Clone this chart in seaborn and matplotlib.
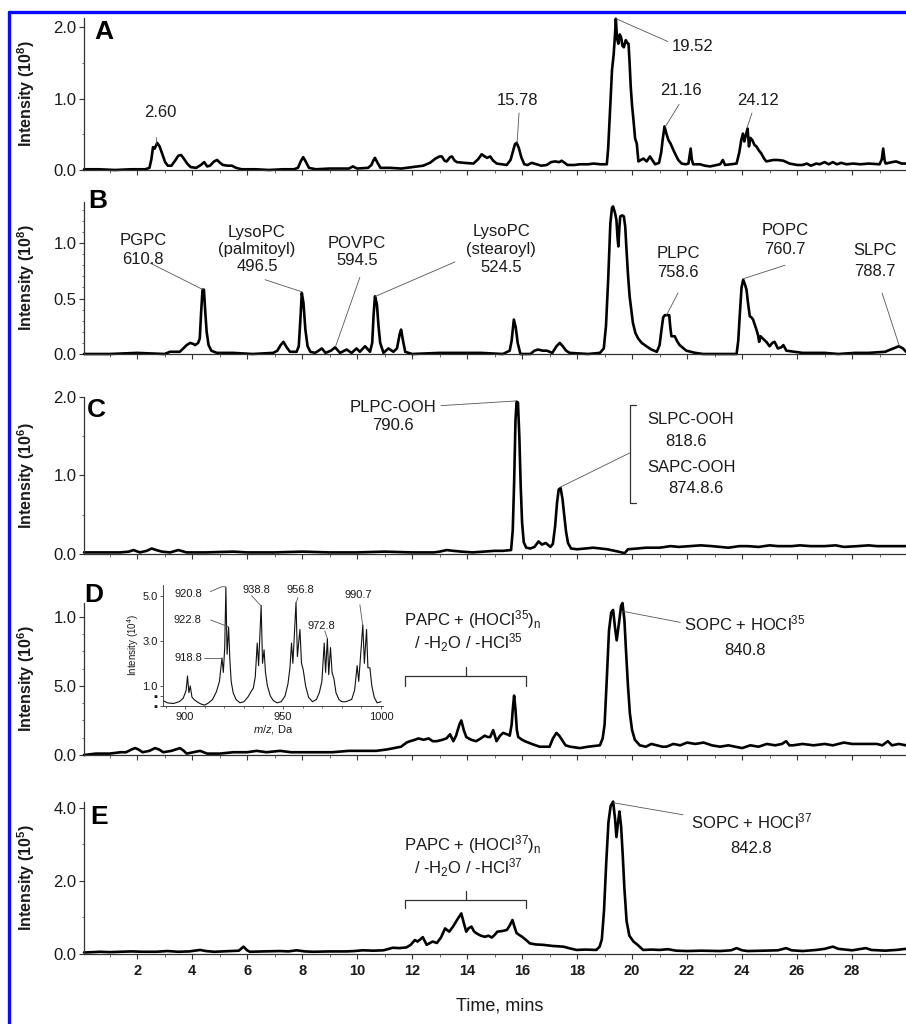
import numpy as np
import matplotlib
matplotlib.use('Agg')
import matplotlib.pyplot as plt
import seaborn as sns
from matplotlib.lines import Line2D
from matplotlib.ticker import MultipleLocator

# =========================
# Chromatogram traces: (time in min, intensity in panel units)
# =========================
trace_a = [(0.07, 0.01), (0.6, 0.01), (1.2, 0.00), (1.8, 0.01), (2.3, 0.01), (2.45, 0.03), (2.52, 0.15),
           (2.58, 0.32), (2.64, 0.30), (2.73, 0.38), (2.82, 0.33), (2.92, 0.22), (3.02, 0.11), (3.12, 0.06),
           (3.25, 0.06), (3.38, 0.13), (3.5, 0.20), (3.6, 0.21), (3.7, 0.16), (3.82, 0.09), (3.95, 0.04),
           (4.15, 0.03), (4.32, 0.07), (4.44, 0.11), (4.55, 0.05), (4.65, 0.06), (4.8, 0.12), (4.91, 0.14),
           (5.02, 0.10), (5.12, 0.07), (5.3, 0.06), (5.45, 0.06), (5.6, 0.03), (5.8, 0.01), (6.3, 0.01),
           (6.8, 0.00), (7.3, 0.01), (7.7, 0.01), (7.85, 0.03), (7.95, 0.12), (8.04, 0.18), (8.13, 0.12),
           (8.25, 0.03), (8.5, 0.01), (9.0, 0.02), (9.4, 0.02), (9.7, 0.02), (9.85, 0.05), (10.0, 0.02),
           (10.4, 0.03), (10.52, 0.07), (10.6, 0.14), (10.65, 0.17), (10.73, 0.11), (10.85, 0.03),
           (11.2, 0.03), (11.6, 0.02), (12.0, 0.04), (12.4, 0.06), (12.65, 0.10), (12.85, 0.16),
           (13.0, 0.19), (13.08, 0.19), (13.18, 0.13), (13.26, 0.12), (13.38, 0.18), (13.45, 0.19),
           (13.55, 0.13), (13.63, 0.11), (13.9, 0.10), (14.23, 0.09), (14.4, 0.15), (14.53, 0.22),
           (14.64, 0.19), (14.72, 0.17), (14.84, 0.19), (14.95, 0.13), (15.08, 0.09), (15.25, 0.08),
           (15.44, 0.07), (15.58, 0.14), (15.66, 0.25), (15.74, 0.36), (15.8, 0.38), (15.88, 0.31),
           (15.97, 0.18), (16.08, 0.08), (16.2, 0.07), (16.35, 0.10), (16.53, 0.08), (16.7, 0.06),
           (16.9, 0.07), (17.05, 0.11), (17.2, 0.12), (17.35, 0.11), (17.44, 0.13), (17.55, 0.10),
           (17.65, 0.07), (17.9, 0.07), (18.1, 0.08), (18.4, 0.08), (18.6, 0.09), (18.85, 0.08),
           (19.08, 0.08), (19.13, 0.30), (19.2, 0.84), (19.27, 1.40), (19.33, 1.62), (19.38, 1.90),
           (19.41, 2.12), (19.45, 1.85), (19.5, 1.77), (19.55, 1.90), (19.6, 1.86), (19.65, 1.74),
           (19.7, 1.72), (19.77, 1.82), (19.83, 1.78), (19.87, 1.77), (19.91, 1.50), (19.95, 1.17),
           (20.0, 0.90), (20.05, 0.70), (20.11, 0.44), (20.17, 0.37), (20.23, 0.12), (20.32, 0.14),
           (20.41, 0.16), (20.53, 0.12), (20.65, 0.19), (20.75, 0.13), (20.84, 0.08), (20.98, 0.10),
           (21.06, 0.25), (21.12, 0.45), (21.18, 0.61), (21.24, 0.52), (21.32, 0.42), (21.4, 0.37),
           (21.5, 0.28), (21.6, 0.20), (21.68, 0.14), (21.8, 0.09), (21.95, 0.08), (22.05, 0.09),
           (22.1, 0.22), (22.13, 0.30), (22.17, 0.15), (22.22, 0.08), (22.47, 0.08), (22.65, 0.06),
           (22.84, 0.05), (23.07, 0.07), (23.2, 0.08), (23.3, 0.14), (23.38, 0.07), (23.6, 0.08),
           (23.8, 0.09), (23.9, 0.25), (23.97, 0.42), (24.03, 0.51), (24.08, 0.40), (24.13, 0.48),
           (24.2, 0.58), (24.25, 0.33), (24.3, 0.45), (24.37, 0.42), (24.45, 0.35), (24.52, 0.33),
           (24.6, 0.28), (24.7, 0.23), (24.8, 0.16), (24.88, 0.12), (25.0, 0.13), (25.13, 0.14),
           (25.3, 0.14), (25.5, 0.13), (25.73, 0.09), (26.0, 0.07), (26.2, 0.07), (26.35, 0.09),
           (26.5, 0.06), (26.7, 0.09), (26.82, 0.08), (27.0, 0.11), (27.15, 0.08), (27.3, 0.11),
           (27.45, 0.08), (27.6, 0.10), (27.8, 0.08), (28.04, 0.09), (28.3, 0.08), (28.6, 0.09),
           (29.0, 0.08), (29.08, 0.15), (29.13, 0.30), (29.18, 0.14), (29.22, 0.09), (29.45, 0.11),
           (29.6, 0.12), (29.8, 0.09), (29.96, 0.09)]

trace_b = [(0.07, 0.0), (1.0, 0.0), (2.0, 0.01), (3.0, 0.0), (3.2, 0.02), (3.55, 0.02), (3.68, 0.05),
           (3.8, 0.08), (3.93, 0.10), (4.05, 0.09), (4.11, 0.08), (4.22, 0.10), (4.28, 0.14), (4.33, 0.38),
           (4.38, 0.58), (4.43, 0.58), (4.48, 0.38), (4.53, 0.20), (4.6, 0.08), (4.7, 0.03), (4.9, 0.01),
           (5.5, 0.01), (6.2, 0.0), (6.95, 0.01), (7.1, 0.03), (7.22, 0.08), (7.32, 0.11), (7.44, 0.06),
           (7.56, 0.02), (7.8, 0.02), (7.88, 0.07), (7.94, 0.32), (7.99, 0.55), (8.05, 0.46), (8.12, 0.22),
           (8.2, 0.07), (8.3, 0.02), (8.47, 0.01), (8.6, 0.03), (8.72, 0.05), (8.85, 0.01), (9.05, 0.03),
           (9.2, 0.06), (9.38, 0.01), (9.62, 0.04), (9.8, 0.01), (9.98, 0.05), (10.1, 0.02), (10.29, 0.07),
           (10.47, 0.02), (10.55, 0.10), (10.6, 0.35), (10.65, 0.52), (10.72, 0.45), (10.78, 0.25),
           (10.84, 0.10), (10.96, 0.01), (11.14, 0.05), (11.32, 0.02), (11.45, 0.05), (11.55, 0.18),
           (11.6, 0.22), (11.67, 0.12), (11.75, 0.02), (12.0, 0.0), (13.0, 0.01), (13.6, 0.01),
           (14.5, 0.01), (15.3, 0.0), (15.55, 0.03), (15.62, 0.12), (15.7, 0.31), (15.77, 0.24),
           (15.84, 0.10), (15.94, 0.0), (16.3, 0.0), (16.45, 0.03), (16.58, 0.04), (16.75, 0.03),
           (16.9, 0.03), (17.1, 0.01), (17.25, 0.07), (17.37, 0.10), (17.48, 0.07), (17.6, 0.03),
           (17.73, 0.01), (18.4, 0.0), (18.83, 0.01), (18.97, 0.05), (19.05, 0.25), (19.13, 0.67),
           (19.21, 1.18), (19.27, 1.32), (19.31, 1.33), (19.38, 1.27), (19.43, 1.21), (19.47, 1.05),
           (19.5, 0.97), (19.54, 1.15), (19.57, 1.24), (19.64, 1.25), (19.7, 1.24), (19.75, 1.15),
           (19.79, 0.97), (19.85, 0.72), (19.91, 0.52), (20.03, 0.28), (20.12, 0.19), (20.22, 0.14),
           (20.35, 0.10), (20.52, 0.07), (20.7, 0.04), (20.9, 0.02), (21.0, 0.08), (21.07, 0.22),
           (21.13, 0.33), (21.19, 0.35), (21.35, 0.35), (21.39, 0.24), (21.43, 0.16), (21.55, 0.16),
           (21.65, 0.11), (21.73, 0.08), (21.97, 0.03), (22.3, 0.01), (22.58, 0.0), (23.2, 0.0),
           (23.8, 0.0), (23.86, 0.12), (23.92, 0.37), (23.98, 0.60), (24.04, 0.67), (24.1, 0.63),
           (24.16, 0.58), (24.22, 0.45), (24.28, 0.34), (24.34, 0.33), (24.4, 0.31), (24.52, 0.22),
           (24.58, 0.17), (24.62, 0.11), (24.67, 0.16), (24.75, 0.14), (24.88, 0.11), (25.0, 0.07),
           (25.1, 0.10), (25.18, 0.11), (25.3, 0.05), (25.42, 0.06), (25.5, 0.08), (25.61, 0.03),
           (25.9, 0.02), (26.2, 0.01), (27.0, 0.01), (27.5, 0.0), (28.1, 0.01), (28.6, 0.01),
           (29.2, 0.02), (29.5, 0.05), (29.7, 0.07), (29.85, 0.05), (29.96, 0.02)]

trace_c = [(0.07, 0.02), (0.8, 0.02), (1.4, 0.02), (1.7, 0.03), (1.87, 0.05), (2.1, 0.02), (2.35, 0.04),
           (2.53, 0.07), (2.7, 0.05), (2.9, 0.03), (3.2, 0.02), (3.5, 0.05), (3.8, 0.02), (4.5, 0.02),
           (5.5, 0.03), (6.0, 0.02), (7.0, 0.02), (8.0, 0.03), (9.0, 0.02), (10.0, 0.02), (11.0, 0.03),
           (12.0, 0.02), (12.8, 0.02), (13.0, 0.03), (13.26, 0.05), (13.5, 0.04), (13.8, 0.03),
           (14.2, 0.02), (14.6, 0.03), (15.0, 0.04), (15.3, 0.04), (15.6, 0.05), (15.66, 0.30),
           (15.71, 0.90), (15.76, 1.70), (15.8, 1.94), (15.85, 1.93), (15.9, 1.50), (15.95, 0.86),
           (16.0, 0.40), (16.06, 0.15), (16.15, 0.08), (16.3, 0.07), (16.45, 0.09), (16.6, 0.16),
           (16.72, 0.12), (16.86, 0.14), (17.03, 0.09), (17.12, 0.13), (17.2, 0.35), (17.27, 0.65),
           (17.33, 0.82), (17.4, 0.84), (17.47, 0.70), (17.53, 0.50), (17.6, 0.28), (17.67, 0.14),
           (17.78, 0.07), (18.0, 0.06), (18.3, 0.07), (18.58, 0.08), (18.85, 0.07), (19.1, 0.06),
           (19.5, 0.03), (19.73, 0.01), (19.85, 0.06), (20.2, 0.07), (20.5, 0.08), (21.0, 0.08),
           (21.4, 0.10), (21.7, 0.09), (22.1, 0.10), (22.5, 0.11), (22.9, 0.10), (23.2, 0.09),
           (23.5, 0.08), (23.9, 0.10), (24.2, 0.10), (24.6, 0.09), (25.0, 0.11), (25.3, 0.10),
           (25.8, 0.10), (26.1, 0.11), (26.5, 0.10), (27.0, 0.10), (27.4, 0.11), (27.7, 0.09),
           (28.2, 0.10), (28.6, 0.11), (28.9, 0.10), (29.4, 0.10), (29.96, 0.10)]

trace_d = [(0.07, 0.0), (0.5, 0.01), (1.0, 0.01), (1.4, 0.02), (1.6, 0.02), (1.8, 0.04), (1.93, 0.05),
           (2.05, 0.04), (2.2, 0.02), (2.45, 0.03), (2.65, 0.05), (2.8, 0.04), (2.95, 0.02), (3.25, 0.03),
           (3.56, 0.05), (3.7, 0.03), (3.8, 0.01), (4.05, 0.02), (4.29, 0.03), (4.55, 0.01), (5.0, 0.01),
           (5.5, 0.02), (6.0, 0.02), (6.35, 0.03), (6.7, 0.02), (7.2, 0.03), (7.6, 0.02), (8.3, 0.02),
           (9.1, 0.02), (9.7, 0.03), (10.3, 0.03), (10.7, 0.03), (11.08, 0.04), (11.35, 0.05),
           (11.6, 0.06), (11.8, 0.09), (11.93, 0.10), (12.1, 0.11), (12.23, 0.12), (12.42, 0.11),
           (12.6, 0.12), (12.75, 0.10), (12.9, 0.10), (13.1, 0.11), (13.25, 0.12), (13.38, 0.15),
           (13.5, 0.10), (13.6, 0.14), (13.72, 0.22), (13.79, 0.25), (13.88, 0.18), (13.97, 0.13),
           (14.15, 0.11), (14.33, 0.10), (14.5, 0.12), (14.64, 0.14), (14.75, 0.13), (14.84, 0.13),
           (14.95, 0.18), (15.07, 0.10), (15.2, 0.14), (15.31, 0.16), (15.45, 0.15), (15.55, 0.14),
           (15.62, 0.22), (15.67, 0.35), (15.71, 0.43), (15.76, 0.33), (15.81, 0.18), (15.86, 0.13),
           (16.0, 0.11), (16.1, 0.10), (16.22, 0.09), (16.35, 0.08), (16.5, 0.07), (16.64, 0.06),
           (16.8, 0.06), (17.0, 0.06), (17.12, 0.12), (17.25, 0.16), (17.35, 0.14), (17.45, 0.11),
           (17.58, 0.07), (17.75, 0.06), (18.1, 0.05), (18.4, 0.06), (18.83, 0.07), (18.93, 0.12),
           (19.0, 0.22), (19.08, 0.55), (19.16, 0.90), (19.24, 1.03), (19.31, 1.05), (19.38, 0.92),
           (19.44, 0.83), (19.52, 0.95), (19.6, 1.08), (19.65, 1.10), (19.72, 0.98), (19.78, 0.75),
           (19.85, 0.50), (19.92, 0.30), (20.0, 0.18), (20.1, 0.11), (20.28, 0.07), (20.5, 0.06),
           (20.7, 0.08), (20.9, 0.07), (21.1, 0.06), (21.25, 0.06), (21.5, 0.08), (21.75, 0.07),
           (22.0, 0.09), (22.3, 0.08), (22.6, 0.09), (22.9, 0.07), (23.2, 0.06), (23.5, 0.07),
           (24.0, 0.05), (24.3, 0.07), (24.6, 0.06), (24.9, 0.08), (25.2, 0.07), (25.45, 0.08),
           (25.6, 0.10), (25.72, 0.07), (25.85, 0.07), (26.2, 0.08), (26.6, 0.07), (27.0, 0.08),
           (27.3, 0.07), (27.7, 0.09), (28.0, 0.08), (28.4, 0.08), (28.9, 0.08), (29.1, 0.07),
           (29.3, 0.10), (29.45, 0.07), (29.7, 0.08), (29.96, 0.07)]

trace_e = [(0.07, 0.04), (0.4, 0.05), (0.65, 0.06), (1.0, 0.05), (1.4, 0.06), (1.8, 0.07), (2.2, 0.06),
           (2.7, 0.06), (3.1, 0.08), (3.5, 0.06), (3.9, 0.07), (4.29, 0.11), (4.5, 0.08), (4.8, 0.06),
           (5.1, 0.07), (5.4, 0.08), (5.7, 0.09), (5.87, 0.20), (6.0, 0.10), (6.1, 0.06), (6.6, 0.07),
           (7.2, 0.08), (7.5, 0.07), (7.8, 0.10), (8.1, 0.07), (8.4, 0.06), (9.0, 0.07), (9.6, 0.07),
           (9.9, 0.08), (10.2, 0.10), (10.6, 0.09), (10.96, 0.10), (11.3, 0.17), (11.55, 0.16),
           (11.8, 0.18), (11.95, 0.25), (12.1, 0.38), (12.2, 0.34), (12.3, 0.40), (12.39, 0.46),
           (12.53, 0.25), (12.65, 0.30), (12.75, 0.34), (12.9, 0.30), (13.05, 0.45), (13.2, 0.70),
           (13.35, 0.61), (13.49, 0.75), (13.65, 0.95), (13.79, 1.11), (13.88, 0.85), (13.97, 0.61),
           (14.05, 0.70), (14.16, 0.75), (14.25, 0.62), (14.33, 0.57), (14.5, 0.50), (14.64, 0.47),
           (14.78, 0.50), (14.9, 0.45), (15.0, 0.52), (15.1, 0.61), (15.3, 0.63), (15.45, 0.66),
           (15.55, 0.78), (15.65, 0.93), (15.72, 0.75), (15.8, 0.57), (15.9, 0.52), (16.0, 0.47),
           (16.15, 0.38), (16.28, 0.29), (16.5, 0.26), (16.76, 0.25), (17.1, 0.22), (17.5, 0.20),
           (17.75, 0.15), (17.98, 0.11), (18.3, 0.12), (18.7, 0.11), (18.82, 0.20), (18.9, 0.40),
           (18.98, 1.20), (19.06, 2.50), (19.14, 3.60), (19.22, 4.05), (19.31, 4.17), (19.38, 3.70),
           (19.43, 3.20), (19.49, 3.60), (19.54, 3.90), (19.6, 3.50), (19.66, 2.70), (19.72, 1.80),
           (19.8, 0.90), (19.9, 0.50), (20.05, 0.34), (20.2, 0.25), (20.4, 0.11), (20.7, 0.12),
           (21.0, 0.11), (21.3, 0.13), (21.6, 0.09), (22.0, 0.08), (22.5, 0.09), (23.2, 0.08),
           (23.6, 0.10), (23.8, 0.16), (24.0, 0.10), (24.2, 0.08), (24.8, 0.09), (25.3, 0.10),
           (25.6, 0.16), (25.8, 0.10), (26.2, 0.08), (26.7, 0.11), (27.0, 0.14), (27.3, 0.20),
           (27.5, 0.14), (28.0, 0.10), (28.5, 0.16), (28.7, 0.11), (29.2, 0.09), (29.6, 0.11),
           (29.96, 0.14)]

# Inset mass spectrum: (m/z, intensity in 10^4)
spectrum_d = [(888.7, 0.35), (891, 0.25), (894, 0.22), (897, 0.30), (899, 0.45), (900.5, 0.80),
              (901.2, 1.44), (901.9, 0.70), (902.6, 1.00), (903.5, 0.50), (904.5, 0.40), (906, 0.30),
              (908, 0.20), (910, 0.15), (912, 0.25), (914, 0.40), (916, 0.75), (917.5, 1.20),
              (918.8, 2.24), (919.5, 1.60), (920.2, 2.70), (920.8, 5.36), (921.4, 2.40), (922.2, 3.60),
              (922.8, 2.20), (923.5, 1.20), (924.5, 0.70), (926, 0.40), (928, 0.25), (930, 0.30),
              (932, 0.50), (934, 0.80), (934.8, 0.90), (935.8, 1.40), (936.8, 2.90), (937.5, 1.90),
              (938.8, 4.56), (939.5, 2.00), (940.3, 2.60), (941, 1.60), (942, 1.00), (943.5, 0.55),
              (945, 0.35), (947, 0.25), (949, 0.30), (951, 0.55), (952.5, 1.10), (953.5, 1.80),
              (954.3, 2.90), (955.0, 2.00), (956.6, 4.70), (957.3, 2.30), (958.6, 3.50), (959.4, 2.00),
              (960.3, 1.70), (961.5, 1.00), (963, 0.50), (965, 0.30), (967, 0.40), (968.5, 0.70),
              (969.8, 1.20), (971.0, 2.90), (971.7, 1.60), (972.6, 3.10), (973.3, 1.50), (974.2, 2.70),
              (975, 1.60), (976, 1.30), (977, 0.70), (978.5, 0.40), (980, 0.30), (982, 0.30),
              (985, 0.40), (986.5, 0.80), (987.8, 1.90), (988.6, 1.20), (990.7, 3.70), (991.5, 2.00),
              (992.6, 3.50), (993.3, 1.80), (994.3, 1.80), (995.3, 1.00), (996.5, 0.50), (998, 0.25),
              (1000, 0.30)]

TXT = '#1a1a1a'
LEAD = '#555555'


def draw_panel(fig, rect, trace, ylim, yticks, yticklabels, yminor, ylabel, letter, letter_xy,
               show_x=False):
    t, v = zip(*trace)
    ax = fig.add_axes(rect)
    sns.lineplot(x=list(t), y=list(v), ax=ax, color='black', linewidth=1.9, sort=False,
                 estimator=None)
    for ln in ax.lines:
        ln.set_clip_on(False)
        ln.set_solid_joinstyle('round')
    ax.set_xlim(0.07, 29.96)
    ax.set_ylim(*ylim)
    ax.xaxis.set_major_locator(MultipleLocator(2))
    ax.xaxis.set_minor_locator(MultipleLocator(1))
    ax.set_yticks(yticks)
    ax.set_yticklabels(yticklabels, fontsize=12, color=TXT)
    ax.yaxis.set_minor_locator(MultipleLocator(yminor))
    ax.tick_params(axis='both', which='major', direction='out', length=3.5, width=0.8,
                   colors='#333333', pad=2)
    ax.tick_params(axis='both', which='minor', direction='out', length=1.8, width=0.6,
                   colors='#555555')
    ax.tick_params(axis='y', labelcolor=TXT)
    if show_x:
        ax.tick_params(axis='x', labelsize=10.5, labelcolor=TXT, pad=4)
        for lab in ax.get_xticklabels():
            lab.set_fontweight('bold')
    else:
        ax.tick_params(axis='x', labelbottom=False)
    sns.despine(ax=ax)
    for s in ['left', 'bottom']:
        ax.spines[s].set_linewidth(0.9)
        ax.spines[s].set_color('#333333')
    ax.set_ylabel(ylabel, fontsize=11.5, fontweight='bold', color=TXT)
    ax.yaxis.set_label_coords(-0.057, 0.5)
    ax.set_xlabel('')
    ax.text(letter_xy[0], letter_xy[1], letter, transform=ax.transAxes, fontsize=19,
            fontweight='bold', ha='left', va='center', color='black')
    return ax


def note(ax, txt, x, y, leader=None, size=12, ls=1.25):
    ax.text(x, y, txt, ha='center', va='center', fontsize=size, color=TXT, linespacing=ls)
    if leader is not None:
        lx, ly = zip(*leader)
        ax.plot(lx, ly, color=LEAD, lw=0.6, clip_on=False)


sns.set_style('ticks')
plt.rcParams['font.family'] = ['Liberation Sans', 'DejaVu Sans']
plt.rcParams['mathtext.fontset'] = 'custom'
plt.rcParams['mathtext.rm'] = 'Liberation Sans'
plt.rcParams['mathtext.it'] = 'Liberation Sans:italic'
plt.rcParams['mathtext.bf'] = 'Liberation Sans:bold'

fig = plt.figure(figsize=(9.06, 10.24), dpi=100)
left, width = 84 / 906, 822 / 906

# ---- A ----
ax_a = draw_panel(fig, [left, 0.8340, width, 0.1484], trace_a, (0, 2.13),
                  [0, 1, 2], ['0.0', '1.0', '2.0'], 0.5,
                  r'Intensity (10$^{\mathbf{8}}$)', 'A', (0.013, 0.905))
note(ax_a, '2.60', 2.84, 0.80, [(2.69, 0.46), (2.69, 0.36)])
note(ax_a, '15.78', 15.85, 0.98, [(15.89, 0.80), (15.82, 0.39)])
note(ax_a, '19.52', 22.2, 1.73, [(19.42, 2.12), (21.3, 1.80)])
note(ax_a, '21.16', 21.78, 1.12, [(21.71, 0.92), (21.2, 0.60)])
note(ax_a, '24.12', 24.58, 0.98, [(24.36, 0.80), (24.17, 0.58)])

# ---- B ----
ax_b = draw_panel(fig, [left, 0.6543, width, 0.1484], trace_b, (0, 1.37),
                  [0, 0.5, 1.0], ['0.0', '0.5', '1.0'], 0.1,
                  r'Intensity (10$^{\mathbf{8}}$)', 'B', (0.005, 1.01))
note(ax_b, 'PGPC\n610.8', 2.22, 0.94, [(2.47, 0.82), (4.4, 0.58)], ls=1.3)
note(ax_b, 'LysoPC\n(palmitoyl)\n496.5', 6.36, 0.94, [(6.65, 0.67), (8.0, 0.56)], ls=1.17)
note(ax_b, 'POVPC\n594.5', 10.0, 0.92, [(10.1, 0.69), (9.22, 0.07)], ls=1.2)
note(ax_b, 'LysoPC\n(stearoyl)\n524.5', 15.24, 0.94, [(13.56, 0.83), (10.67, 0.52)], ls=1.25)
note(ax_b, 'PLPC\n758.6', 21.67, 0.82, [(21.67, 0.55), (21.25, 0.35)], ls=1.4)
note(ax_b, 'POPC\n760.7', 25.56, 1.03, [(25.56, 0.80), (24.06, 0.68)], ls=1.3)
note(ax_b, 'SLPC\n788.7', 28.84, 0.84, [(29.09, 0.55), (29.72, 0.07)], ls=1.5)

# ---- C ----
ax_c = draw_panel(fig, [left, 0.4590, width, 0.1533], trace_c, (0, 2.0),
                  [0, 1, 2], ['0.0', '1.0', '2.0'], 0.5,
                  r'Intensity (10$^{\mathbf{6}}$)', 'C', (0.003, 0.92))
note(ax_c, 'PLPC-OOH\n790.6', 11.31, 1.75, [(13.05, 1.89), (15.8, 1.95)], ls=1.3)
ax_c.plot([20.15, 19.93, 19.93, 20.15], [1.90, 1.90, 0.65, 0.65], color='#333333', lw=0.9,
          clip_on=False)
ax_c.plot([19.93, 17.38], [1.29, 0.85], color=LEAD, lw=0.6)
note(ax_c, 'SLPC-OOH', 22.11, 1.71)
note(ax_c, '818.6', 21.96, 1.43)
note(ax_c, 'SAPC-OOH', 22.15, 1.10)
note(ax_c, '874.8.6', 22.33, 0.84)

# ---- D ----
ax_d = draw_panel(fig, [left, 0.2627, width, 0.1484], trace_d, (0, 1.10),
                  [0, 0.5, 1.0], ['0.0', '5.0', '1.0'], 0.125,
                  r'Intensity (10$^{\mathbf{6}}$)', 'D', (0.0, 1.05))
note(ax_d, r'PAPC + (HOCl$^{35}$)$_{\mathrm{n}}$', 14.2, 0.98)
note(ax_d, r'/ -H$_2$O / -HCl$^{35}$', 14.05, 0.81)
ax_d.plot([11.75, 11.75, 16.15, 16.15], [0.50, 0.57, 0.57, 0.50], color='#333333', lw=0.9)
ax_d.plot([13.96, 13.96], [0.57, 0.64], color='#333333', lw=0.9)
note(ax_d, r'SOPC + HOCl$^{35}$', 24.1, 0.95)
note(ax_d, '840.8', 24.1, 0.76)
ax_d.plot([21.75, 19.67], [0.96, 1.04], color=LEAD, lw=0.6)

# inset spectrum
mz, mz_int = zip(*spectrum_d)
ax_in = fig.add_axes([163 / 906, 1 - 706 / 1024, 220 / 906, 121 / 1024])
sns.lineplot(x=list(mz), y=list(mz_int), ax=ax_in, color='#111111', linewidth=0.8, sort=False,
             estimator=None)
ax_in.set_xlim(888.7, 1001)
ax_in.set_ylim(0.11, 5.47)
ax_in.set_xticks([900, 950, 1000])
ax_in.set_xticklabels(['900', '950', '1000'], fontsize=8, color=TXT)
ax_in.set_yticks([0.13, 0.55, 1, 3, 5])
ax_in.set_yticklabels(['\u25aa', '\u25aa', '1.0', '3.0', '5.0'], fontsize=8, color=TXT)
ax_in.xaxis.set_minor_locator(MultipleLocator(10))
ax_in.tick_params(axis='both', which='major', direction='out', length=2.5, width=0.6,
                  colors='#444444', pad=1.5)
ax_in.tick_params(axis='both', which='minor', direction='out', length=1.5, width=0.5)
ax_in.tick_params(labelcolor=TXT)
sns.despine(ax=ax_in)
for s in ['left', 'bottom']:
    ax_in.spines[s].set_linewidth(0.7)
    ax_in.spines[s].set_color('#444444')
ax_in.set_facecolor('none')
ax_in.set_ylabel(r'Intensity (10$^4$)', fontsize=7, color=TXT, labelpad=1)
ax_in.set_xlabel(r'$m/z$, Da', fontsize=8, color=TXT, labelpad=1)
note(ax_in, '920.8', 901.4, 5.09, [(912.9, 5.18), (918.6, 5.39), (920.8, 5.39)], size=8)
note(ax_in, '922.8', 901.4, 3.93, [(913.0, 3.92), (922.1, 3.62)], size=8)
note(ax_in, '918.8', 901.6, 2.24, [(909.6, 2.24), (918.5, 2.24)], size=8)
note(ax_in, '938.8', 936.2, 5.27, [(933.9, 5.0), (938.6, 4.56)], size=8)
note(ax_in, '956.8', 958.6, 5.27, [(957.6, 4.91), (956.7, 4.70)], size=8)
note(ax_in, '972.8', 969.6, 3.67, [(971.3, 3.44), (972.5, 3.12)], size=8)
note(ax_in, '990.7', 988.2, 5.04, [(989.2, 4.6), (990.6, 3.70)], size=8)

# ---- E ----
ax_e = draw_panel(fig, [left, 0.0684, width, 0.1484], trace_e, (0, 4.16),
                  [0, 2, 4], ['0.0', '2.0', '4.0'], 1,
                  r'Intensity (10$^{\mathbf{5}}$)', 'E', (0.007, 0.90), show_x=True)
note(ax_e, r'PAPC + (HOCl$^{37}$)$_{\mathrm{n}}$', 14.2, 2.99)
note(ax_e, r'/ -H$_2$O / -HCl$^{37}$', 14.05, 2.36)
ax_e.plot([11.75, 11.75, 16.15, 16.15], [1.26, 1.48, 1.48, 1.26], color='#333333', lw=0.9)
ax_e.plot([13.96, 13.96], [1.48, 1.73], color='#333333', lw=0.9)
note(ax_e, r'SOPC + HOCl$^{37}$', 24.33, 3.62)
note(ax_e, '842.8', 24.33, 2.90)
ax_e.plot([21.85, 19.31], [3.81, 4.14], color=LEAD, lw=0.6)

fig.text(500 / 906, 1 - 1006 / 1024, 'Time, mins', ha='center', va='center', fontsize=13,
         color=TXT)

# blue frame (top and left edges visible in the crop)
fig.add_artist(Line2D([9 / 906, 1.0], [1 - 12 / 1024, 1 - 12 / 1024], color='#0a0aff', lw=2.4,
                      transform=fig.transFigure))
fig.add_artist(Line2D([9 / 906, 9 / 906], [0.0, 1 - 12 / 1024], color='#0a0aff', lw=2.4,
                      transform=fig.transFigure))

fig.savefig('out.png', dpi=100, facecolor='white')
plt.close(fig)
